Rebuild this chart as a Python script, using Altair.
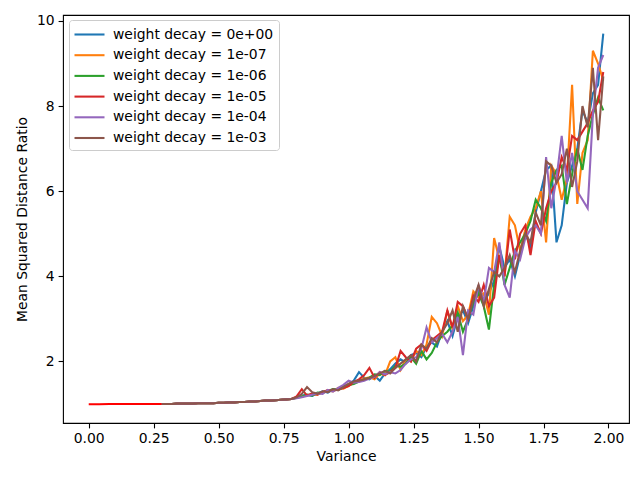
import altair as alt
import pandas as pd

labels = ["weight decay = 0e+00", "weight decay = 1e-07", "weight decay = 1e-06",
          "weight decay = 1e-05", "weight decay = 1e-04", "weight decay = 1e-03"]
colors = ["#1f77b4", "#ff7f0e", "#2ca02c", "#d62728", "#9467bd", "#8c564b"]

# variance grid: low part 0.28..0.78, high part 0.80..1.98 (step 0.02)
x_low = [round(0.28 + 0.02 * i, 2) for i in range(26)]
x_high = [round(0.80 + 0.02 * i, 2) for i in range(60)]

low_vals = [1.00, 1.00, 1.00, 1.01, 1.01, 1.01, 1.01, 1.02, 1.02, 1.02, 1.02, 1.03, 1.03,
            1.04, 1.04, 1.05, 1.05, 1.06, 1.06, 1.07, 1.08, 1.08, 1.09, 1.10, 1.11, 1.12]

s0 = [1.15, 1.20, 1.22, 1.19, 1.25, 1.30, 1.27, 1.34, 1.33, 1.42,
      1.46, 1.55, 1.75, 1.62, 1.58, 1.66, 1.55, 1.72, 1.82, 1.95,
      2.05, 1.98, 2.15, 2.20, 2.10, 2.35, 2.45, 2.35, 2.70, 2.95,
      2.60, 3.05, 3.20, 2.90, 3.30, 3.70, 3.40, 3.60, 3.90, 4.70,
      4.20, 4.40, 4.00, 4.50, 5.00, 4.70, 5.50, 6.00, 6.50, 6.60,
      4.80, 5.20, 6.20, 6.60, 7.00, 7.90, 7.60, 8.30, 8.50, 9.70]
s1 = [1.15, 1.18, 1.20, 1.23, 1.22, 1.28, 1.32, 1.30, 1.38, 1.36,
      1.43, 1.50, 1.55, 1.60, 1.63, 1.58, 1.72, 1.68, 2.00, 2.10,
      1.80, 2.05, 2.00, 2.25, 2.15, 2.40, 3.05, 2.90, 2.60, 3.20,
      2.75, 3.30, 2.95, 3.10, 3.65, 3.50, 3.60, 3.10, 4.90, 4.40,
      4.00, 5.40, 5.20, 4.60, 5.10, 5.40, 5.60, 6.00, 4.80, 6.60,
      6.40, 5.80, 6.30, 8.50, 5.70, 6.90, 7.20, 9.30, 9.00, 8.60]
s2 = [1.15, 1.17, 1.22, 1.20, 1.27, 1.26, 1.31, 1.35, 1.34, 1.39,
      1.45, 1.47, 1.53, 1.58, 1.62, 1.70, 1.68, 1.78, 1.76, 1.90,
      1.88, 1.95, 2.10, 1.95, 2.25, 2.05, 2.20, 2.45, 2.60, 2.70,
      2.85, 3.15, 2.70, 3.00, 3.40, 3.60, 3.30, 2.75, 3.80, 4.50,
      3.80, 4.20, 4.60, 4.80, 5.00, 5.30, 5.80, 5.60, 5.30, 6.20,
      6.50, 6.60, 5.70, 6.40, 7.00, 6.50, 7.30, 7.80, 8.20, 7.90]
s3 = [1.18, 1.35, 1.20, 1.25, 1.22, 1.28, 1.33, 1.31, 1.35, 1.38,
      1.42, 1.52, 1.58, 1.68, 1.85, 1.62, 1.75, 1.68, 1.75, 1.85,
      2.25, 2.10, 2.00, 2.30, 2.40, 2.25, 2.50, 2.60, 2.70, 3.20,
      2.80, 3.40, 3.30, 3.00, 3.55, 3.40, 3.80, 3.30, 3.50, 4.50,
      4.00, 5.10, 4.40, 5.00, 5.20, 4.50, 5.30, 5.00, 5.60, 6.00,
      6.20, 6.80, 6.50, 7.30, 7.20, 7.40, 7.60, 7.90, 8.10, 8.80]
s4 = [1.14, 1.16, 1.19, 1.22, 1.25, 1.24, 1.33, 1.29, 1.38, 1.45,
      1.55, 1.50, 1.52, 1.55, 1.60, 1.64, 1.75, 1.70, 1.75, 1.72,
      1.80, 1.95, 2.05, 2.10, 2.30, 2.80, 2.45, 2.55, 2.65, 2.45,
      2.70, 3.05, 2.15, 3.20, 3.10, 3.80, 3.40, 4.20, 4.10, 4.80,
      3.80, 3.50, 4.60, 4.40, 4.90, 5.10, 5.20, 5.00, 6.80, 5.60,
      6.30, 7.30, 6.20, 6.90, 6.00, 5.80, 5.60, 7.80, 8.90, 9.20]
s5 = [1.16, 1.24, 1.40, 1.28, 1.24, 1.30, 1.28, 1.35, 1.32, 1.40,
      1.48, 1.53, 1.55, 1.58, 1.61, 1.66, 1.72, 1.78, 1.72, 1.85,
      1.95, 2.05, 2.15, 2.00, 2.40, 2.30, 2.55, 2.45, 2.70, 2.90,
      3.20, 2.70, 3.30, 3.00, 3.45, 3.80, 3.30, 3.70, 4.10, 4.00,
      4.20, 4.50, 4.10, 4.60, 5.00, 4.80, 5.50, 5.20, 6.70, 6.60,
      6.20, 6.40, 7.00, 6.10, 6.70, 8.00, 7.50, 8.90, 7.20, 8.70]
series = [s0, s1, s2, s3, s4, s5]

# baseline segment (pure red) at small variance
base_x = [0.00, 0.04, 0.08, 0.28]
base_y = [0.995, 0.995, 1.00, 1.00]

x_ticks = [0.0, 0.25, 0.5, 0.75, 1.0, 1.25, 1.5, 1.75, 2.0]
y_ticks = [2, 4, 6, 8, 10]

rows = []
for lab, vals in zip(labels, series):
    for xv, yv in zip(x_low + x_high, low_vals + vals):
        rows.append({"Variance": xv, "ratio": yv, "series": lab})
df = pd.DataFrame(rows)
df_base = pd.DataFrame({"Variance": base_x, "ratio": base_y})

FONT = "DejaVu Sans"
FS = 13.9

xscale = alt.Scale(domain=[-0.099, 2.079], nice=False, zero=False)
yscale = alt.Scale(domain=[0.555, 10.14], nice=False, zero=False)

xaxis = alt.Axis(values=x_ticks, format=".2f", grid=False, domain=False,
                 tickColor="black", tickWidth=1.1, tickSize=4.9, labelPadding=4,
                 labelFont=FONT, labelFontSize=FS, labelColor="black",
                 titleFont=FONT, titleFontSize=FS, titleFontWeight="normal",
                 titleColor="black", titlePadding=4, labelFlush=False)
yaxis = alt.Axis(values=y_ticks, format="d", grid=False, domain=False,
                 tickColor="black", tickWidth=1.1, tickSize=4.9, labelPadding=4,
                 labelFont=FONT, labelFontSize=FS, labelColor="black",
                 titleFont=FONT, titleFontSize=FS, titleFontWeight="normal",
                 titleColor="black", titlePadding=7, labelFlush=False)

lines = alt.Chart(df).mark_line(strokeWidth=2.08, clip=True).encode(
    x=alt.X("Variance:Q", scale=xscale, axis=xaxis, title="Variance"),
    y=alt.Y("ratio:Q", scale=yscale, axis=yaxis, title="Mean Squared Distance Ratio"),
    color=alt.Color("series:N", scale=alt.Scale(domain=labels, range=colors),
                    legend=alt.Legend(
                        title=None, orient="none", legendX=6, legendY=5,
                        symbolType="M-1.875,0L1.875,0", symbolSize=256,
                        symbolStrokeWidth=2.08, symbolOffset=6,
                        labelFont=FONT, labelFontSize=FS, labelColor="black",
                        labelOffset=14, rowPadding=3.7, padding=5,
                        fillColor="rgba(255,255,255,0.8)", strokeColor="#cccccc",
                        cornerRadius=3, labelLimit=400)),
    detail="series:N",
)

base = alt.Chart(df_base).mark_line(strokeWidth=2.08, color="#ff0000").encode(
    x=alt.X("Variance:Q", scale=xscale),
    y=alt.Y("ratio:Q", scale=yscale),
)

chart = alt.layer(lines, base).properties(
    width=566, height=408,
    autosize=alt.AutoSizeParams(type="none"),
    padding={"left": 55, "top": 7, "right": 2, "bottom": 48},
).configure_view(stroke="black", strokeWidth=1.1)

chart.save("out.html", embed_options={"renderer": "svg", "actions": False})
